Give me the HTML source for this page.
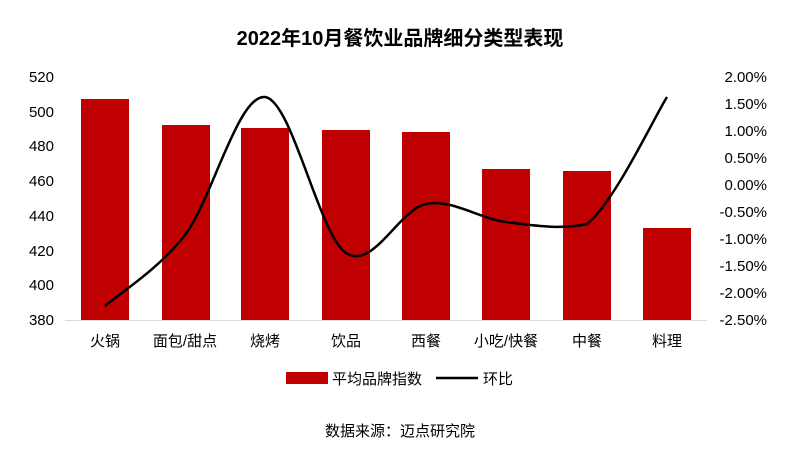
<!DOCTYPE html>
<html><head><meta charset="utf-8"><style>
body{margin:0;background:#fff;}
svg text{font-family:"Liberation Sans","Noto Sans CJK SC",sans-serif;fill:#000;}
</style></head><body>
<svg width="800" height="453" viewBox="0 0 800 453" xmlns="http://www.w3.org/2000/svg">
<rect width="800" height="453" fill="#fff"/>
<text x="400" y="45" font-size="20" font-weight="bold" text-anchor="middle">2022年10月餐饮业品牌细分类型表现</text>
<g font-size="15" text-anchor="end">
<text x="54" y="82">520</text><text x="54" y="117">500</text><text x="54" y="151">480</text>
<text x="54" y="186">460</text><text x="54" y="221">440</text><text x="54" y="256">420</text>
<text x="54" y="290">400</text><text x="54" y="325">380</text>
</g>
<g font-size="15" text-anchor="end">
<text x="767" y="82">2.00%</text><text x="767" y="109">1.50%</text><text x="767" y="136">1.00%</text>
<text x="767" y="163">0.50%</text><text x="767" y="190">0.00%</text><text x="767" y="217">-0.50%</text>
<text x="767" y="244">-1.00%</text><text x="767" y="271">-1.50%</text><text x="767" y="298">-2.00%</text>
<text x="767" y="325">-2.50%</text>
</g>
<g fill="#c00000">
<rect x="81" y="99" width="48" height="221"/>
<rect x="162" y="125" width="48" height="195"/>
<rect x="241" y="128" width="48" height="192"/>
<rect x="322" y="130" width="48" height="190"/>
<rect x="402" y="132" width="48" height="188"/>
<rect x="482" y="169" width="48" height="151"/>
<rect x="563" y="171" width="48" height="149"/>
<rect x="643" y="228" width="48" height="92"/>
</g>
<line x1="65" y1="320.5" x2="707" y2="320.5" stroke="#d9d9d9" stroke-width="1"/>
<path d="M105,306 C118.3,294.2 158.3,269.8 185,235 C211.7,200.2 238.2,94 265,97 C291.8,100 319.2,235.2 346,253 C372.8,270.8 399.3,209.2 426,204 C452.7,198.8 479.2,218.7 506,222 C532.8,225.3 560.2,230 587,224 C613.8,203.2 653.7,118.2 667,97" fill="none" stroke="#000" stroke-width="2.5"/>
<g font-size="15" text-anchor="middle">
<text x="105" y="346">火锅</text><text x="185" y="346">面包/甜点</text><text x="265" y="346">烧烤</text>
<text x="346" y="346">饮品</text><text x="426" y="346">西餐</text><text x="506" y="346">小吃/快餐</text>
<text x="587" y="346">中餐</text><text x="667" y="346">料理</text>
</g>
<rect x="286" y="372" width="42" height="12" fill="#c00000"/>
<text x="332" y="384" font-size="15">平均品牌指数</text>
<line x1="436" y1="378" x2="478" y2="378" stroke="#000" stroke-width="2.5"/>
<text x="483" y="384" font-size="15">环比</text>
<text x="400" y="436" font-size="15" text-anchor="middle">数据来源：迈点研究院</text>
</svg>
</body></html>
